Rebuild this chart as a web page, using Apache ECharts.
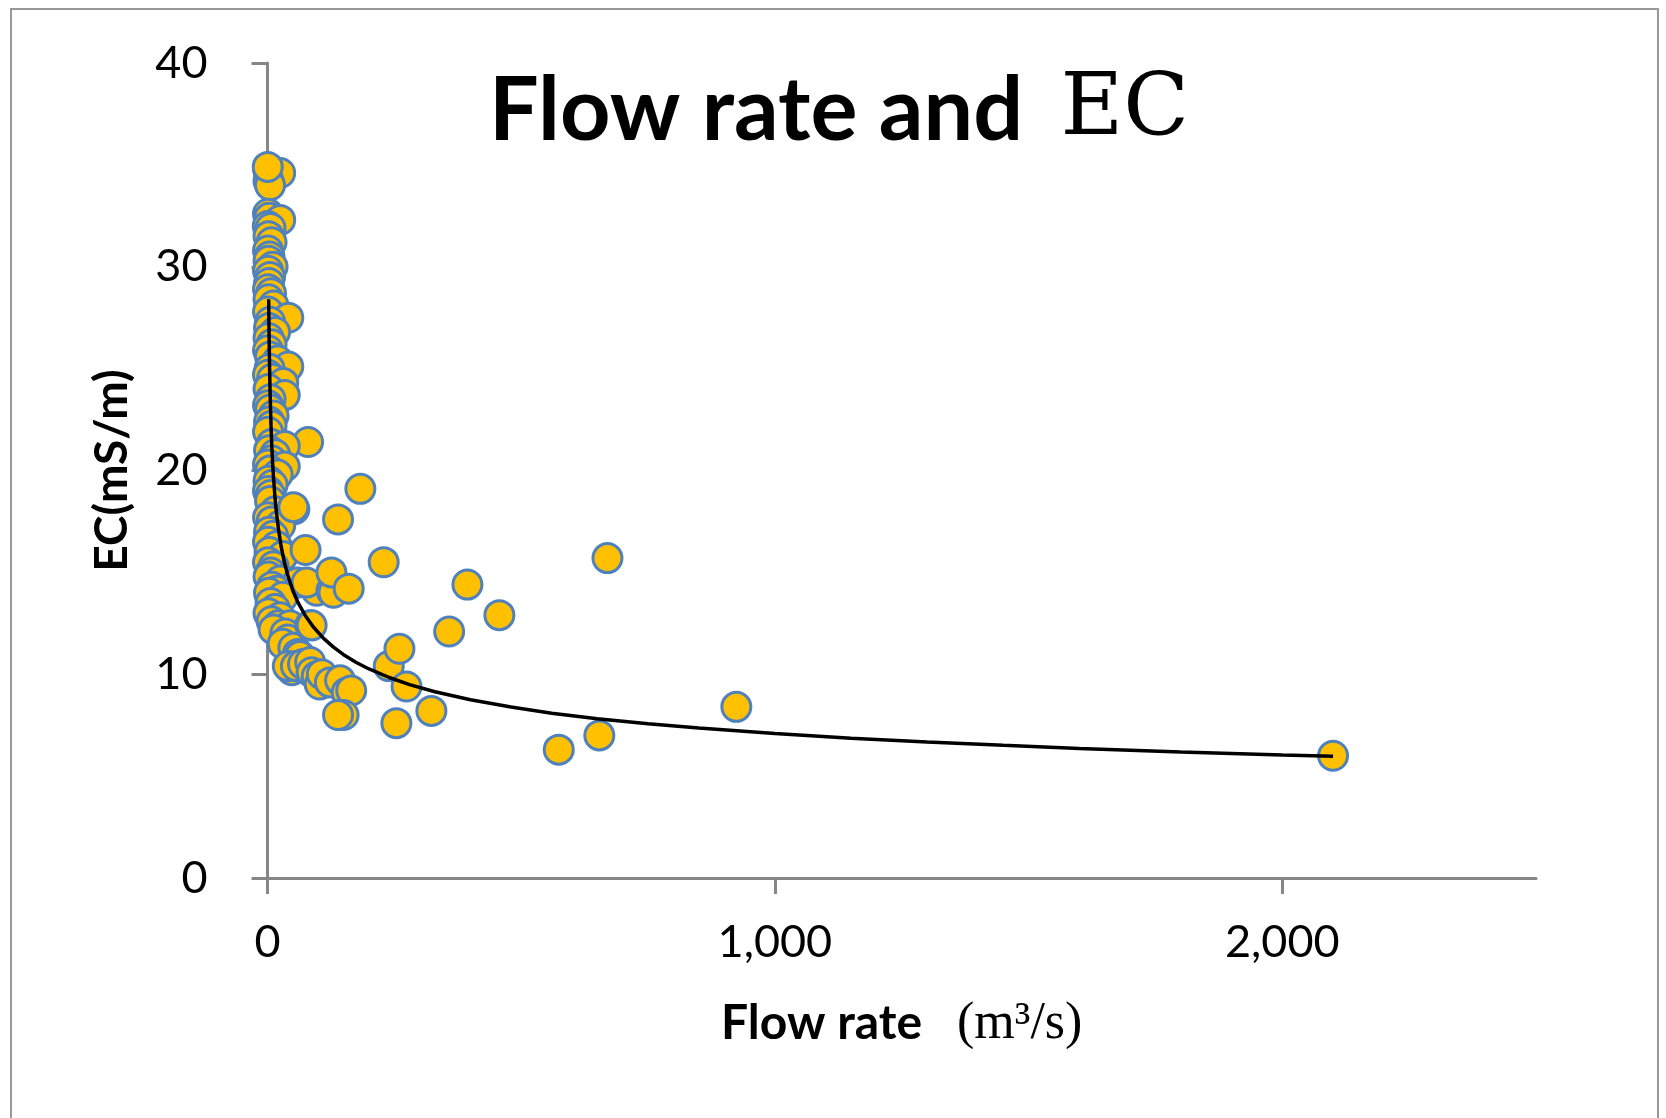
<!DOCTYPE html>
<html>
<head>
<meta charset="utf-8">
<script src="https://cdn.jsdelivr.net/npm/echarts@6/dist/echarts.min.js"></script>
<style>
html,body{margin:0;padding:0;background:#fff;}
#chart{width:1666px;height:1118px;}
</style>
</head>
<body>
<div id="chart"></div>
<script>
// Scatter data: flow rate (m3/s) and EC (mS/m)
const flowRate = [
  1,3,25,2,5,0.5,
  1,3,25,0.5,6,2,8,1,4,2,10,1,5,3,1,7,2,12,1,41,5,3,15,2,8,1,5,20,41,4,1,9,31,2,34,6,1,5,12,3,8,1,80,8,34,3,15,8,1,34,5,20,2,10,1,6,5,53,15,1,8,25,3,11,1,18,4,30,1,12,6,2,25,59,9,18,3,30,6,15,2,25,8,21,44,12,35,40,30,51,60,64,48,40,56,70,84,87,97,103,107,123,143,156,165,150,139,
  51,75,84,87,97,77,126,130,126,160,139,183,229,239,260,254,274,323,358,394,457,574,654,670,924,2100
];
const ecValues = [
  34.8,34.5,34.6,34.2,34.0,34.9,
  32.6,32.4,32.3,32.0,31.9,31.5,31.2,30.8,30.5,30.3,30.0,29.8,29.5,29.2,28.9,28.7,28.4,28.1,27.8,27.5,27.3,27.0,26.8,26.5,26.2,25.9,25.6,25.4,25.1,25.0,24.7,24.5,24.3,24.0,23.7,23.5,23.2,23.0,22.7,22.4,22.2,21.9,21.4,21.3,21.2,21.0,20.8,20.5,20.3,20.2,20.0,19.8,19.5,19.3,19.0,18.8,18.5,18.1,18.0,17.7,17.5,17.3,17.0,16.8,16.5,16.3,16.0,15.8,15.5,15.3,15.0,14.8,14.6,14.5,14.3,14.1,14.0,13.8,13.5,13.2,13.0,12.8,12.6,12.4,12.4,12.2,12.0,11.7,11.5,11.3,11.0,10.9,10.2,10.4,10.4,10.5,10.6,10.1,9.9,9.5,10.0,9.6,9.7,9.1,9.2,8.0,8.0,
  18.2,16.1,12.4,12.4,14.1,14.5,14.1,14.0,15.0,14.2,17.6,19.1,15.5,10.4,11.25,7.6,9.4,8.2,12.1,14.4,12.9,6.3,7.0,15.7,8.4,6.0
];
// Trend line
const trendFlow = [2.4,2.7,3,3.5,4,5,6,7,8.5,10,12,15,18,22,27,33,40,50,60,75,90,110,130,150,175,200,240,280,330,400,480,560,650,750,850,1000,1150,1300,1450,1600,1800,2000,2100];
const trendEC   = [28.4,27.6,26.95,26.0,25.2,23.97,22.98,22.2,21.2,20.4,19.6,18.6,17.85,17.05,16.26,15.52,14.86,14.1,13.53,12.86,12.33,11.77,11.33,10.96,10.58,10.26,9.84,9.49,9.14,8.75,8.39,8.09,7.82,7.57,7.36,7.09,6.86,6.67,6.51,6.36,6.19,6.04,5.97];
// Axis ticks
const xTickValues = [0,1000,2000];
const yTicks = [0,10,20,30,40];

const scatterData = flowRate.map((x,i)=>[x, ecValues[i]]);
const trendData = trendFlow.map((x,i)=>[x, trendEC[i]]);

const axisColor = '#868686';
const chart = echarts.init(document.getElementById('chart'));
chart.setOption({
  animation:false,
  backgroundColor:'#fff',
  graphic:[{
    type:'rect', z:-10, silent:true,
    shape:{x:11,y:9,width:1647,height:1200},
    style:{fill:'none',stroke:'#999999',lineWidth:2}
  }],
  title:{
    text:'{a|Flow rate and }{b|EC}',
    left:489, top:62, padding:0,
    textStyle:{
      rich:{
        a:{fontFamily:'Lato',fontWeight:'bold',fontSize:88,color:'#000',lineHeight:100},
        b:{fontFamily:'DejaVu Serif',fontWeight:'normal',fontSize:86,color:'#000',lineHeight:100,padding:[0,0,0,16]}
      }
    }
  },
  grid:{left:267.5,right:130,top:63,bottom:240,containLabel:false},
  xAxis:{
    type:'value', min:0, max:2500,
    name:'{a|Flow rate   }{b|(m³/s)}',
    nameLocation:'middle', nameGap:116,
    nameTextStyle:{
      rich:{
        a:{fontFamily:'Lato',fontWeight:'bold',fontSize:48,color:'#000',lineHeight:60},
        b:{fontFamily:'Liberation Serif',fontWeight:'normal',fontSize:52,color:'#000',lineHeight:60}
      }
    },
    axisLine:{show:true,lineStyle:{color:axisColor,width:3}},
    axisTick:{show:true,length:16,customValues:xTickValues,lineStyle:{color:axisColor,width:3}},
    axisLabel:{customValues:xTickValues,fontFamily:'Lato',fontSize:45,color:'#000',margin:42,
      formatter:(v)=>Number(v).toLocaleString('en-US')},
    splitLine:{show:false}
  },
  yAxis:{
    type:'value', min:0, max:40, interval:10,
    name:'EC(mS/m)', nameLocation:'middle', nameGap:132,
    nameTextStyle:{fontFamily:'Lato',fontWeight:'bold',fontSize:46,color:'#000'},
    axisLine:{show:true,lineStyle:{color:axisColor,width:3}},
    axisTick:{show:true,length:16,lineStyle:{color:axisColor,width:3}},
    axisLabel:{fontFamily:'Lato',fontSize:45,color:'#000',margin:60},
    splitLine:{show:false}
  },
  series:[
    {
      type:'scatter', data:scatterData, symbol:'circle', symbolSize:29,
      itemStyle:{color:'#FFC000',borderColor:'#4F81BD',borderWidth:3,opacity:1},
      z:2
    },
    {
      type:'line', data:trendData, showSymbol:false, symbol:'none',
      smooth:false,
      lineStyle:{color:'#000',width:3.5}, z:5
    }
  ]
});
</script>
</body>
</html>
